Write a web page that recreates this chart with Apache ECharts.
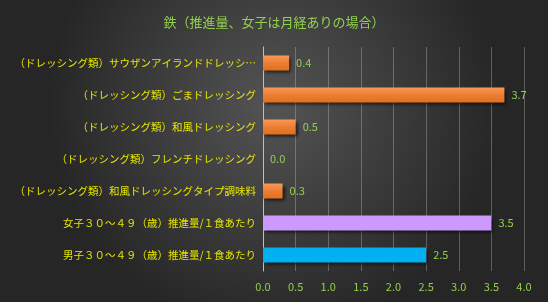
<!DOCTYPE html>
<html>
<head>
<meta charset="utf-8">
<script src="https://cdn.jsdelivr.net/npm/echarts@6/dist/echarts.min.js"></script>
<style>
  html, body { margin: 0; padding: 0; background: #333; }
  #chart { width: 548px; height: 302px; }
</style>
</head>
<body>
<div id="chart"></div>
<script>
    // 上から順
    var categories = [
        '（ドレッシング類）サウザンアイランドドレッシング',
        '（ドレッシング類）ごまドレッシング',
        '（ドレッシング類）和風ドレッシング',
        '（ドレッシング類）フレンチドレッシング',
        '（ドレッシング類）和風ドレッシングタイプ調味料',
        '女子３０～４９（歳）推進量/１食あたり',
        '男子３０～４９（歳）推進量/１食あたり'
    ];
    var values = [0.4, 3.7, 0.5, 0.0, 0.3, 3.5, 2.5];
    var barColors = ['orange', 'orange', 'orange', 'orange', 'orange', '#CC99FF', '#00B0F0'];
    var xTicks = [0, 4, 0.5];  // min, max, interval

    var orange = new echarts.graphic.LinearGradient(0, 0, 0, 1, [
        { offset: 0, color: '#F79a5a' },
        { offset: 0.5, color: '#ED7D31' },
        { offset: 1, color: '#E0701f' }
    ]);

    var myEchart = echarts.init(document.getElementById('chart'));
    var option = {
        backgroundColor: new echarts.graphic.RadialGradient(0.5, 0.35, 0.75, [
            { offset: 0, color: '#545454' },
            { offset: 1, color: '#262626' }
        ]),
        textStyle: { fontFamily: '"Noto Sans CJK JP", sans-serif' },
        title: {
            text: '鉄（推進量、女子は月経ありの場合）',
            left: 'center',
            top: 11,
            textStyle: { color: '#92D050', fontSize: 13, fontWeight: 'normal' }
        },
        grid: { left: 263, right: 24, top: 47, bottom: 31, containLabel: false },
        xAxis: {
            type: 'value',
            min: xTicks[0],
            max: xTicks[1],
            interval: xTicks[2],
            axisLine: { show: false },
            axisTick: { show: false },
            splitLine: { lineStyle: { color: 'rgba(200,200,200,0.35)', width: 1 } },
            axisLabel: {
                color: '#92D050',
                fontSize: 11,
                margin: 10,
                formatter: function (v) { return v.toFixed(1); }
            }
        },
        yAxis: {
            type: 'category',
            inverse: true,
            data: categories,
            axisLine: { lineStyle: { color: '#bfbfbf' } },
            axisTick: { show: false },
            axisLabel: {
                color: '#E6E600',
                fontSize: 10.5,
                margin: 7,
                width: 244,
                overflow: 'truncate',
                ellipsis: '…'
            }
        },
        series: [{
            type: 'bar',
            barWidth: 15,
            data: values.map(function (v, i) {
                return {
                    value: v,
                    itemStyle: {
                        color: barColors[i] === 'orange' ? orange : barColors[i],
                        shadowColor: 'rgba(0,0,0,0.6)',
                        shadowBlur: 3,
                        shadowOffsetX: 2,
                        shadowOffsetY: 2
                    }
                };
            }),
            label: {
                show: true,
                position: 'right',
                distance: 7,
                color: '#92D050',
                fontSize: 11,
                formatter: function (p) { return p.value.toFixed(1); }
            }
        }]
    };
    myEchart.setOption(option);
</script>
</body>
</html>
